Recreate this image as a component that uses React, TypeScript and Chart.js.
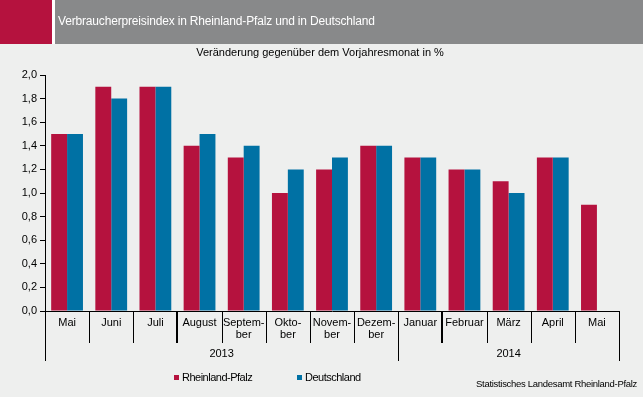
import React, { useEffect, useRef } from "react";
import { Chart, registerables } from "chart.js";

Chart.register(...registerables);

const categories: (string | string[])[] = [
  "Mai", "Juni", "Juli", "August", ["Septem-", "ber"], ["Okto-", "ber"],
  ["Novem-", "ber"], ["Dezem-", "ber"], "Januar", "Februar", "März", "April", "Mai",
];
const rlpValues: (number | null)[] = [1.5, 1.9, 1.9, 1.4, 1.3, 1.0, 1.2, 1.4, 1.3, 1.2, 1.1, 1.3, 0.9];
const deValues: (number | null)[] = [1.5, 1.8, 1.9, 1.5, 1.4, 1.2, 1.3, 1.4, 1.3, 1.2, 1.0, 1.3, null];
const years = ["2013", "2014"];
const yearSpans = [8, 5];
const seriesNames = ["Rheinland-Pfalz", "Deutschland"];
const titleText = "Verbraucherpreisindex in Rheinland-Pfalz und in Deutschland";
const subtitleText = "Veränderung gegenüber dem Vorjahresmonat in %";
const sourceText = "Statistisches Landesamt Rheinland-Pfalz";

const RED = "#b5123e";
const BLUE = "#0071a4";
const BG = "#eeefee";
const HEADER_GRAY = "#88898a";
const FONT = "'Liberation Sans', Arial, sans-serif";

const decorPlugin = {
  id: "decor",
  beforeDraw(chart: any) {
    const ctx = chart.ctx;
    ctx.save();
    ctx.fillStyle = BG;
    ctx.fillRect(0, 0, chart.width, chart.height);
    ctx.fillStyle = "#ffffff";
    ctx.fillRect(0, 0, chart.width, 44);
    ctx.fillStyle = RED;
    ctx.fillRect(0, 0, 52, 44);
    ctx.fillStyle = HEADER_GRAY;
    ctx.fillRect(55, 0, chart.width - 55, 44);
    ctx.fillStyle = "#ffffff";
    ctx.font = `12px ${FONT}`;
    ctx.textAlign = "left";
    ctx.textBaseline = "middle";
    (ctx as any).letterSpacing = "-0.17px";
    ctx.fillText(titleText, 58, 22);
    ctx.fillStyle = "#000000";
    ctx.font = `11px ${FONT}`;
    ctx.textAlign = "center";
    (ctx as any).letterSpacing = "0px";
    ctx.fillText(subtitleText, 320, 53);
    ctx.restore();
  },
  afterDraw(chart: any) {
    const ctx = chart.ctx;
    const xs = chart.scales.x;
    const area = chart.chartArea;
    const half = (xs.getPixelForValue(1) - xs.getPixelForValue(0)) / 2;
    const n = categories.length;
    const bounds: number[] = [];
    for (let i = 0; i <= n; i++) bounds.push(xs.getPixelForValue(i) - half);
    const yearBounds = [0];
    let acc = 0;
    yearSpans.forEach((s) => { acc += s; yearBounds.push(acc); });
    ctx.save();
    ctx.strokeStyle = "#000000";
    for (let i = 0; i <= n; i++) {
      const isYear = yearBounds.includes(i);
      const thick = i === 3 || i === 9;
      ctx.lineWidth = thick ? 2 : 1;
      const x = thick ? Math.round(bounds[i]) : Math.round(bounds[i]) + 0.5;
      ctx.beginPath();
      ctx.moveTo(x, area.bottom);
      ctx.lineTo(x, isYear ? 361 : 343);
      ctx.stroke();
    }
    ctx.fillStyle = "#000000";
    ctx.font = `11px ${FONT}`;
    ctx.textAlign = "center";
    ctx.textBaseline = "middle";
    for (let k = 0; k < years.length; k++) {
      const x0 = bounds[yearBounds[k]];
      const x1 = bounds[yearBounds[k + 1]];
      ctx.fillText(years[k], (x0 + x1) / 2, 354);
    }
    // legend
    const legendX = [174, 297];
    const colors = [RED, BLUE];
    ctx.textAlign = "left";
    (ctx as any).letterSpacing = "-0.5px";
    for (let k = 0; k < seriesNames.length; k++) {
      ctx.fillStyle = colors[k];
      ctx.fillRect(legendX[k], 375, 5, 5);
      ctx.fillStyle = "#000000";
      ctx.fillText(seriesNames[k], legendX[k] + 8, 378);
    }
    ctx.font = `9.5px ${FONT}`;
    ctx.textAlign = "right";
    (ctx as any).letterSpacing = "-0.3px";
    ctx.fillText(sourceText, 637, 384);
    ctx.restore();
  },
};

export default function App() {
  const ref = useRef<HTMLCanvasElement | null>(null);
  useEffect(() => {
    if (!ref.current) return;
    const chart = new Chart(ref.current, {
      type: "bar",
      data: {
        labels: categories as any,
        datasets: [
          { label: seriesNames[0], data: rlpValues, backgroundColor: RED, borderWidth: 0 },
          { label: seriesNames[1], data: deValues, backgroundColor: BLUE, borderWidth: 0 },
        ],
      },
      options: {
        animation: false,
        responsive: false,
        devicePixelRatio: 1,
        layout: { padding: { top: 75, right: 24, left: 0, bottom: 0 } },
        datasets: { bar: { categoryPercentage: 0.72, barPercentage: 1 } },
        plugins: { legend: { display: false }, tooltip: { enabled: false }, title: { display: false } },
        scales: {
          x: {
            grid: { display: false, drawTicks: false },
            border: { display: true, color: "#000000", width: 1 },
            ticks: {
              autoSkip: false,
              maxRotation: 0,
              minRotation: 0,
              padding: 6,
              color: "#000000",
              font: { family: FONT, size: 11, lineHeight: 1.1 },
            },
            afterFit: (s: any) => { s.height = 86; },
          },
          y: {
            min: 0,
            max: 2,
            ticks: {
              stepSize: 0.2,
              padding: 3,
              color: "#000000",
              font: { family: FONT, size: 11 },
              callback: (v: any) => Number(v).toFixed(1).replace(".", ","),
            },
            grid: { display: true, drawOnChartArea: false, drawTicks: true, tickLength: 5, color: "#000000" },
            border: { display: true, color: "#000000", width: 1 },
            afterFit: (s: any) => { s.width = 45; },
          },
        },
      },
      plugins: [decorPlugin],
    });
    return () => chart.destroy();
  }, []);
  return (
    <div style={{ position: "absolute", left: 0, top: 0, width: 643, height: 397 }}>
      <canvas ref={ref} width={643} height={397} style={{ display: "block" }} />
    </div>
  );
}
